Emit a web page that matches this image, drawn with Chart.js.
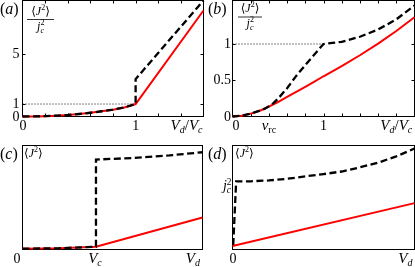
<!DOCTYPE html>
<html>
<head>
<meta charset="utf-8">
<script src="https://cdn.jsdelivr.net/npm/chart.js@4.4.1/dist/chart.umd.min.js"></script>
<style>
html,body{margin:0;padding:0;background:#fff;}
#wrap{position:relative;width:415px;height:267px;background:#fff;overflow:hidden;}
#wrap canvas{position:absolute;left:0;top:0;}
</style>
</head>
<body>
<div id="wrap">
<canvas id="ca" width="415" height="267"></canvas>
<canvas id="cb" width="415" height="267"></canvas>
<canvas id="cc" width="415" height="267"></canvas>
<canvas id="cd" width="415" height="267"></canvas>
</div>
<script>
// ---------- DATA ----------
// Panel (a): <J^2>/jc^2 vs Vd/Vc
const aRedX   = [0, 0.1, 0.2, 0.3, 0.4, 0.5, 0.6, 0.7, 0.8, 0.9, 1.0, 1.6];
const aRedY   = [0, 0.008, 0.03, 0.07, 0.12, 0.2, 0.3, 0.42, 0.55, 0.72, 1.0, 8.5];
const aBlackX = [0, 0.1, 0.2, 0.3, 0.4, 0.5, 0.6, 0.7, 0.8, 0.9, 1.0, 1.0, 1.6];
const aBlackY = [0, 0.008, 0.03, 0.07, 0.12, 0.2, 0.3, 0.42, 0.55, 0.72, 1.0, 3.0, 9.3];
const aRefX   = [0, 1];
const aRefY   = [1, 1];
const aXTicks = [0.2, 0.4, 0.6, 0.8, 1.0, 1.2, 1.4];
const aYTicks = [1, 5];
const aYLabels = ['0', '1', '5'];
const aYLabelVals = [0, 1, 5];

// Panel (b)
const bBlackX = [0, 0.1, 0.2, 0.3, 0.35, 0.4, 0.45, 0.5, 0.6, 0.7, 0.8, 0.9, 1.0, 1.1, 1.2, 1.4, 1.6, 1.8, 2.0];
const bBlackY = [0, 0.01, 0.04, 0.08, 0.105, 0.14, 0.185, 0.245, 0.39, 0.56, 0.71, 0.855, 1.0, 1.015, 1.03, 1.1, 1.2, 1.34, 1.53];
const bRedX   = [0, 0.1, 0.2, 0.3, 0.4, 0.5, 0.6, 0.7, 0.8, 0.9, 1.0, 1.2, 1.4, 1.6, 1.8, 2.0];
const bRedY   = [0, 0.01, 0.04, 0.08, 0.136, 0.2, 0.27, 0.34, 0.41, 0.48, 0.555, 0.695, 0.845, 1.005, 1.18, 1.37];
const bRefX   = [0, 1];
const bRefY   = [1, 1];
const bXTicks = [0.2, 0.4, 0.6, 0.8, 1.0, 1.2, 1.4, 1.6, 1.8];
const bYTicks = [0.5, 1];
const bYLabels = ['0', '0.5', '1'];
const bYLabelVals = [0, 0.5, 1];

// Panel (c): x in units of Vc
const cBlackX = [0, 0.5, 1.0, 1.0, 1.5, 2.0, 2.45];
const cBlackY = [0.007, 0.012, 0.027, 0.865, 0.88, 0.905, 0.935];
const cRedX   = [0, 0.5, 1.0, 2.45];
const cRedY   = [0.007, 0.012, 0.027, 0.307];
const cVc = 1.0, cVd = 2.32;

// Panel (d)
const dBlackX = [0.004, 0.02, 0.1, 0.2, 0.3, 0.4, 0.5, 0.6, 0.7, 0.8, 0.9, 1.0];
const dBlackY = [0.043, 0.655, 0.656, 0.664, 0.68, 0.703, 0.725, 0.75, 0.79, 0.835, 0.895, 0.971];
const dRedX   = [0, 1];
const dRedY   = [0.034, 0.446];
const dJc2 = 0.655, dVd = 0.95;

// ---------- HELPERS ----------
const SERIF = '"Liberation Serif","DejaVu Serif",serif';
const F = (s, it) => (it ? 'italic ' : '') + s + 'px ' + SERIF;
const T = (t, s = 14, it = false, dy = 0, adv = true) => ({t, f: F(s, it), dy, adv});
const pts = (xs, ys) => xs.map((x, i) => ({x, y: ys[i]}));

function rich(ctx, parts, x, y, align) {
  let w = 0;
  for (const p of parts) { ctx.font = p.f; if (p.adv) w += ctx.measureText(p.t).width; }
  let cx = align === 'center' ? x - w / 2 : align === 'right' ? x - w : x;
  ctx.fillStyle = '#000'; ctx.textAlign = 'left'; ctx.textBaseline = 'alphabetic';
  for (const p of parts) {
    ctx.font = p.f; ctx.fillText(p.t, cx, y + p.dy);
    if (p.adv) cx += ctx.measureText(p.t).width;
  }
  return w;
}
const VdVc = () => [T('V',15,true), T('d',10,true,3), T('/',15), T('V',15,true), T('c',10,true,3)];
const J2 = () => [T('\u27E8',12), T('J',12,true), T('2',8,false,-5), T('\u27E9',12)];
const jc2 = (s = 12) => [T('j',s,true), T('2',s*0.67,false,-5,false), T('c',s*0.67,true,3)];
const panel = (l) => [T('(',16), T(l,16,true), T(')',16)];

function frame(ctx, chart, xt, yt) {
  const a = chart.chartArea, sx = chart.scales.x, sy = chart.scales.y;
  ctx.save();
  ctx.strokeStyle = '#000'; ctx.lineWidth = 1;
  ctx.strokeRect(a.left, a.top, a.right - a.left, a.bottom - a.top);
  ctx.beginPath();
  for (const v of xt) {
    const p = Math.round(sx.getPixelForValue(v)) + 0.5;
    ctx.moveTo(p, a.bottom); ctx.lineTo(p, a.bottom - 3);
    ctx.moveTo(p, a.top); ctx.lineTo(p, a.top + 3);
  }
  for (const v of yt) {
    const p = Math.round(sy.getPixelForValue(v)) + 0.5;
    ctx.moveTo(a.left, p); ctx.lineTo(a.left + 3, p);
    ctx.moveTo(a.right, p); ctx.lineTo(a.right - 3, p);
  }
  ctx.stroke();
  ctx.restore();
}
function fraction(ctx, cx, y1, ly, y2, x0, x1) {
  rich(ctx, J2(), cx, y1, 'center');
  ctx.save(); ctx.strokeStyle = '#000'; ctx.lineWidth = 0.8;
  ctx.beginPath(); ctx.moveTo(x0, ly); ctx.lineTo(x1, ly); ctx.stroke(); ctx.restore();
  rich(ctx, jc2(12), cx, y2, 'center');
}

const blackDS = (data) => ({data, showLine: true, borderColor: '#000', borderWidth: 2.3,
  borderDash: [7, 3.5], pointRadius: 0, fill: false, tension: 0, clip: false});
const redDS = (data) => ({data, showLine: true, borderColor: 'rgb(255,0,0)', borderWidth: 2,
  pointRadius: 0, fill: false, tension: 0, clip: false});
const refDS = (data) => ({data, showLine: true, borderColor: '#000', borderWidth: 1,
  borderDash: [1, 2], pointRadius: 0, fill: false, tension: 0, clip: false});

function make(id, datasets, pad, xr, yr, before, after) {
  return new Chart(document.getElementById(id), {
    type: 'scatter',
    data: {datasets},
    options: {
      responsive: false, animation: false, events: [],
      layout: {padding: pad},
      plugins: {legend: {display: false}, tooltip: {enabled: false}, title: {display: false}},
      scales: {
        x: {type: 'linear', display: false, min: xr[0], max: xr[1]},
        y: {type: 'linear', display: false, min: yr[0], max: yr[1]}
      }
    },
    plugins: [{
      id: 'decor' + id,
      beforeDatasetsDraw(chart) { before(chart.ctx, chart); },
      afterDraw(chart) { after(chart.ctx, chart); }
    }]
  });
}

// ---------- PANEL (a) ----------
make('ca',
  [blackDS(pts(aBlackX, aBlackY)), redDS(pts(aRedX, aRedY)), refDS(pts(aRefX, aRefY))],
  {left: 22.5, right: 211.5, top: 0.5, bottom: 150.5}, [0, 1.6], [0, 9.3],
  (ctx, ch) => frame(ctx, ch, aXTicks, aYTicks),
  (ctx, ch) => {
    const sx = ch.scales.x, sy = ch.scales.y;
    rich(ctx, panel('a'), 0, 14, 'left');
    fraction(ctx, 40.5, 15, 19.5, 30, 27, 54);
    aYLabelVals.forEach((v, i) => rich(ctx, [T(aYLabels[i])], 19.5, sy.getPixelForValue(v) + 4, 'right'));
    rich(ctx, [T('0')], sx.getPixelForValue(0) + 0.5, 130, 'center');
    rich(ctx, [T('1')], sx.getPixelForValue(1), 130, 'center');
    rich(ctx, VdVc(), sx.getPixelForValue(1.45), 130, 'center');
  });

// ---------- PANEL (b) ----------
make('cb',
  [blackDS(pts(bBlackX, bBlackY)), redDS(pts(bRedX, bRedY)), refDS(pts(bRefX, bRefY))],
  {left: 232.5, right: 0.5, top: 0.5, bottom: 150.5}, [0, 2], [0, 1.6],
  (ctx, ch) => frame(ctx, ch, bXTicks, bYTicks),
  (ctx, ch) => {
    const sx = ch.scales.x, sy = ch.scales.y;
    rich(ctx, panel('b'), 208, 14, 'left');
    fraction(ctx, 250, 12, 17, 27, 238, 262);
    bYLabelVals.forEach((v, i) => rich(ctx, [T(bYLabels[i])], 231, sy.getPixelForValue(v) + 4, 'right'));
    rich(ctx, [T('0')], sx.getPixelForValue(0) + 3.5, 130, 'center');
    rich(ctx, [T('v',15,true), T('rc',10,false,3)], sx.getPixelForValue(0.4), 130, 'center');
    rich(ctx, [T('1')], sx.getPixelForValue(1), 130, 'center');
    rich(ctx, VdVc(), sx.getPixelForValue(1.8), 130, 'center');
  });

// ---------- PANEL (c) ----------
make('cc',
  [blackDS(pts(cBlackX, cBlackY)), redDS(pts(cRedX, cRedY))],
  {left: 22.5, right: 212.5, top: 145.5, bottom: 17.5}, [0, 2.45], [0, 1],
  (ctx, ch) => frame(ctx, ch, [], []),
  (ctx, ch) => {
    const sx = ch.scales.x;
    rich(ctx, panel('c'), 0, 159, 'left');
    rich(ctx, J2(), 24, 157, 'left');
    rich(ctx, [T('0')], 17, 263, 'center');
    rich(ctx, [T('V',15,true), T('c',10,true,3)], sx.getPixelForValue(cVc) - 1, 263, 'center');
    rich(ctx, [T('V',15,true), T('d',10,true,3)], sx.getPixelForValue(cVd), 263, 'center');
  });

// ---------- PANEL (d) ----------
make('cd',
  [blackDS(pts(dBlackX, dBlackY)), redDS(pts(dRedX, dRedY))],
  {left: 232.5, right: 0.5, top: 145.5, bottom: 17.5}, [0, 1], [0, 1],
  (ctx, ch) => frame(ctx, ch, [], []),
  (ctx, ch) => {
    const sx = ch.scales.x, sy = ch.scales.y;
    rich(ctx, panel('d'), 208, 159, 'left');
    rich(ctx, J2(), 235, 157, 'left');
    rich(ctx, jc2(14), 231, sy.getPixelForValue(dJc2) + 9, 'right');
    rich(ctx, [T('0')], sx.getPixelForValue(0) + 0.5, 263, 'center');
    rich(ctx, [T('V',15,true), T('d',10,true,3)], sx.getPixelForValue(dVd), 263, 'center');
  });
</script>
</body>
</html>
